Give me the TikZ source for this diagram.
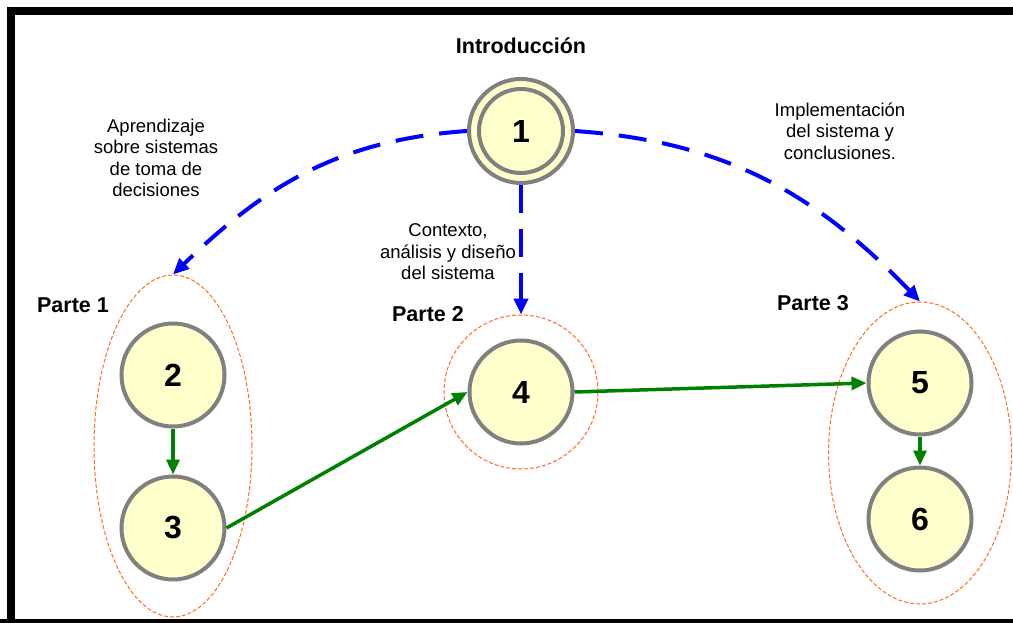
\documentclass[tikz,border=0pt]{standalone}
\usepackage{fontspec}
\setmainfont{Liberation Sans}
\usetikzlibrary{positioning, arrows.meta, shapes.geometric}
\definecolor{numfill}{RGB}{255, 255, 204}
\definecolor{numline}{RGB}{128, 128, 128}
\definecolor{flowcol}{RGB}{0, 128, 0}
\definecolor{partcol}{RGB}{255, 110, 30}

\begin{document}
\begin{tikzpicture}[x=1pt, y=-1pt,
    num/.style={circle, draw=numline, fill=numfill, line width=4pt, minimum size=103pt, inner sep=0pt, font=\fontsize{32}{32}\selectfont\bfseries},
    part/.style={ellipse, draw=partcol, line width=1pt, dash pattern=on 4pt off 2pt, inner sep=0pt},
    lbl/.style={align=center, font=\fontsize{18.5}{21.5}\selectfont},
    ttl/.style={font=\fontsize{21.5}{24}\selectfont\bfseries},
    link/.style={-{Triangle[length=16pt, width=14pt]}, blue, line width=4pt, dash pattern=on 28pt off 16pt},
    flow/.style={-{Triangle[length=15pt, width=13pt]}, flowcol, line width=3.5pt}]

    \useasboundingbox (0,0) rectangle (1013,623);
    \begin{scope}
    \clip (0,0) rectangle (1013,623);
    \draw[line width=8pt] (11,623) -- (11,11) -- (1030,11);
    \draw[line width=8pt] (0,623) -- (1030,623);
    \end{scope}

    \node[part, minimum width=158pt, minimum height=342pt] (e1) at (173,446) {};
    \node[part, minimum width=154pt, minimum height=154pt] (e2) at (521,392) {};
    \node[part, minimum width=183pt, minimum height=302pt] (e3) at (920,453) {};

    \node[num, minimum size=104pt] (n1) at (521,131) {};
    \node[num, minimum size=84pt] (n1in) at (n1) {1};
    \node[num] (n2) at (173,375) {2};
    \node[num] (n3) at (173,528) {3};
    \node[num] (n4) at (521,392) {4};
    \node[num] (n5) at (920,383) {5};
    \node[num] (n6) at (920,519) {6};

    \draw[link] (n1.west) to[out=184, in=44] (e1.north);
    \draw[link] (n1.south) -- (e2.north);
    \draw[link] (n1.east) to[out=-4, in=134] (e3.north);

    \draw[flow] (n2) -- (n3);
    \draw[flow] (n3.east) -- (n4.west);
    \draw[flow] (n4.east) -- (n5.west);
    \draw[flow] (n5) -- (n6);

    \node[ttl] (intro) at (521,46) {Introducción};
    \node[ttl] (p1) at (73,305) {Parte 1};
    \node[ttl] (p2) at (428,314) {Parte 2};
    \node[ttl] (p3) at (813,303) {Parte 3};

    \node[lbl] (l1) at (156,158) {Aprendizaje\\sobre sistemas\\de toma de\\decisiones};
    \node[lbl] (l2) at (448,252) {Contexto,\\análisis y diseño\\del sistema};
    \node[lbl] (l3) at (840,131) {Implementación\\del sistema y\\conclusiones.};
\end{tikzpicture}
\end{document}
